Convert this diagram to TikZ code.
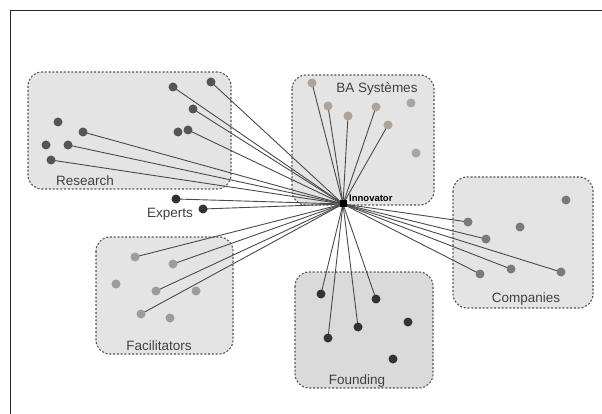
\documentclass[tikz,border=0pt]{standalone}
\usepackage{fontspec}
\setmainfont{Liberation Sans}
\pgfdeclarelayer{bg}
\pgfdeclarelayer{edges}
\pgfsetlayers{bg,edges,main}
\definecolor{boxfill}{HTML}{E4E4E4}
\definecolor{boxfilldark}{HTML}{DADADA}
\definecolor{boxline}{HTML}{555555}
\definecolor{linkcol}{HTML}{4A4A4A}
\definecolor{txtcol}{HTML}{404040}
\definecolor{cres}{HTML}{555555}
\definecolor{cba}{HTML}{ABA39C}
\definecolor{ccomp}{HTML}{7A7A7A}
\definecolor{cfound}{HTML}{333333}
\definecolor{cfac}{HTML}{9C9C9C}
\definecolor{cexp}{HTML}{333333}
\begin{document}
\begin{tikzpicture}[x=1pt,y=-1pt,
  groupbox/.style={draw=boxline, fill=boxfill, dash pattern=on 2pt off 1.8pt, line width=1.1pt, rounded corners=14pt},
  grouplabel/.style={font=\fontsize{13.5}{14}\selectfont, text=txtcol, inner sep=0pt},
  dotnode/.style={circle, inner sep=0pt, minimum size=9pt, fill=#1},
  link/.style={draw=linkcol, line width=0.9pt}]
\useasboundingbox (0,0) rectangle (602,414);

\begin{pgfonlayer}{bg}
\fill[white] (0,0) rectangle (602,414);
\draw[line width=1pt, black!85] (10,414) -- (10,11) -- (602,11);
\draw[groupbox] (28,72) rectangle (231,189);
\draw[groupbox] (292,75) rectangle (434,205);
\draw[groupbox] (453,177) rectangle (593,308);
\draw[groupbox, fill=boxfilldark] (295,272) rectangle (433,388);
\draw[groupbox] (96,237) rectangle (233,354);
\end{pgfonlayer}

\node[grouplabel] (lres) at (85,181) {Research};
\node[grouplabel] (lba) at (377,89) {BA Systèmes};
\node[grouplabel] (lcomp) at (526,299) {Companies};
\node[grouplabel] (lfound) at (357,381) {Founding};
\node[grouplabel] (lfac) at (159,346) {Facilitators};
\node[grouplabel] (lexp) at (170,214) {Experts};

\node[rectangle, fill=black, inner sep=0pt, minimum size=7pt] (inn) at (343,204) {};
\node[font=\fontsize{9.5}{10}\selectfont\bfseries, inner sep=0pt, anchor=west] (linn) at (349,198) {Innovator};

% Research
\node[dotnode=cres] (r1) at (173,87) {};
\node[dotnode=cres] (r2) at (211,82) {};
\node[dotnode=cres] (r3) at (193,109) {};
\node[dotnode=cres] (r4) at (178,132) {};
\node[dotnode=cres] (r5) at (188,130) {};
\node[dotnode=cres] (r6) at (58,122) {};
\node[dotnode=cres] (r7) at (83,132) {};
\node[dotnode=cres] (r8) at (46,145) {};
\node[dotnode=cres] (r9) at (68,145) {};
\node[dotnode=cres] (r10) at (51,160) {};
% Experts
\node[dotnode=cexp] (e1) at (176,199) {};
\node[dotnode=cexp] (e2) at (203,209) {};
% BA Systemes
\node[dotnode=cba] (b1) at (312,83) {};
\node[dotnode=cba] (b2) at (328,106) {};
\node[dotnode=cba] (b3) at (348,116) {};
\node[dotnode=cba] (b4) at (376,107) {};
\node[dotnode=cba] (b5) at (388,125) {};
\node[dotnode=cba] (b6) at (411,103) {};
\node[dotnode=cba] (b7) at (416,153) {};
% Companies
\node[dotnode=ccomp] (c1) at (566,200) {};
\node[dotnode=ccomp] (c2) at (468,222) {};
\node[dotnode=ccomp] (c3) at (520,227) {};
\node[dotnode=ccomp] (c4) at (486,239) {};
\node[dotnode=ccomp] (c5) at (511,269) {};
\node[dotnode=ccomp] (c6) at (480,274) {};
\node[dotnode=ccomp] (c7) at (561,272) {};
% Founding
\node[dotnode=cfound] (f1) at (321,294) {};
\node[dotnode=cfound] (f2) at (376,299) {};
\node[dotnode=cfound] (f3) at (408,322) {};
\node[dotnode=cfound] (f4) at (358,327) {};
\node[dotnode=cfound] (f5) at (328,338) {};
\node[dotnode=cfound] (f6) at (393,359) {};
% Facilitators
\node[dotnode=cfac] (a1) at (135,257) {};
\node[dotnode=cfac] (a2) at (173,264) {};
\node[dotnode=cfac] (a3) at (116,284) {};
\node[dotnode=cfac] (a4) at (156,291) {};
\node[dotnode=cfac] (a5) at (196,291) {};
\node[dotnode=cfac] (a6) at (141,314) {};
\node[dotnode=cfac] (a7) at (170,318) {};

\begin{pgfonlayer}{edges}
\foreach \n in {r1,r2,r3,r5,r7,r9,r10,e1,e2,b1,b2,b3,b4,b5,c2,c4,c5,c6,c7,f1,f2,f4,f5,a1,a2,a4,a6}
  \draw[link] (\n.center) -- (inn.center);
\end{pgfonlayer}
\end{tikzpicture}
\end{document}
